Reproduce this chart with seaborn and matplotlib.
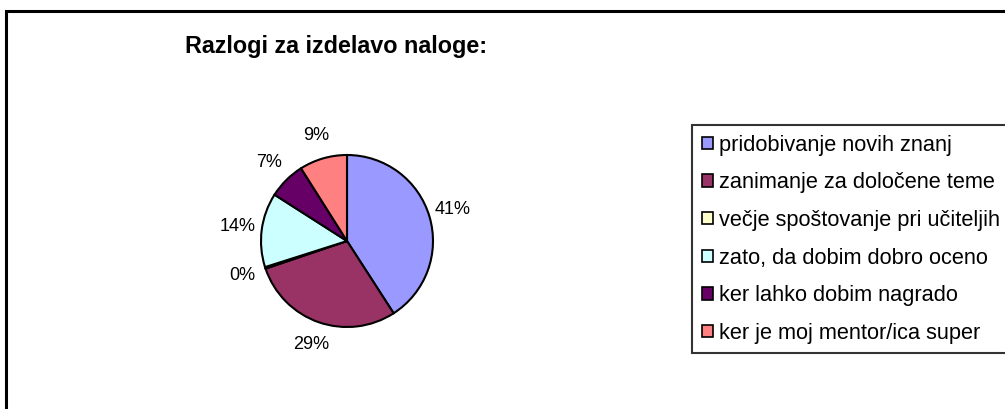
import matplotlib.pyplot as plt
import seaborn as sns
from matplotlib.patches import Rectangle

# data
reasons = ['pridobivanje novih znanj', 'zanimanje za določene teme',
           'večje spoštovanje pri učiteljih', 'zato, da dobim dobro oceno',
           'ker lahko dobim nagrado', 'ker je moj mentor/ica super']
shares = [41, 29, 0.3, 14, 7, 9]
colors = ['#9999FF', '#993366', '#FFFFCC', '#CCFFFF', '#660066', '#FF8080']

sns.set_theme(style="white")
plt.rcParams['font.family'] = ['Liberation Sans', 'DejaVu Sans']
plt.rcParams['text.color'] = 'black'

W, H = 1005, 409
fig = plt.figure(figsize=(W / 100, H / 100), dpi=100)

# outer chart border (right/bottom run off the picture)
fig.patches.append(Rectangle((6 / W, -0.1), 1.2, 1 - 11 / H + 0.1, transform=fig.transFigure,
                             fill=False, edgecolor='black', linewidth=2.2))

fig.text(336 / W, 1 - 47 / H, 'Razlogi za izdelavo naloge:', ha='center', va='center',
         fontsize=16.8, fontweight='bold', color='black')

cx, cy, r = 347, 241, 86
ax = fig.add_axes([(cx - r) / W, 1 - (cy + r) / H, 2 * r / W, 2 * r / H])
wedges, texts = ax.pie(shares, colors=colors, startangle=90, counterclock=False,
                       wedgeprops=dict(edgecolor='black', linewidth=1.5),
                       autopct=lambda p: f'{p:.0f}%', pctdistance=1.28,
                       textprops=dict(fontsize=13, color='black'))[0:2]
ax.set_xlim(-1, 1)
ax.set_ylim(-1, 1)
ax.set_aspect('equal')
ax.axis('off')

leg = fig.legend(wedges, reasons, loc='upper left', bbox_to_anchor=(692 / W, 1 - 125 / H),
                 borderaxespad=0, fontsize=15.7, frameon=True, fancybox=False,
                 handlelength=0.5, handleheight=0.5, handletextpad=0.3,
                 labelspacing=0.76, borderpad=0.45, labelcolor='black')
leg.get_frame().set_edgecolor('black')
leg.get_frame().set_linewidth(1.5)
for h in leg.legend_handles:
    h.set_edgecolor('black')
    h.set_linewidth(1.2)

fig.savefig('out.png', dpi=100)
